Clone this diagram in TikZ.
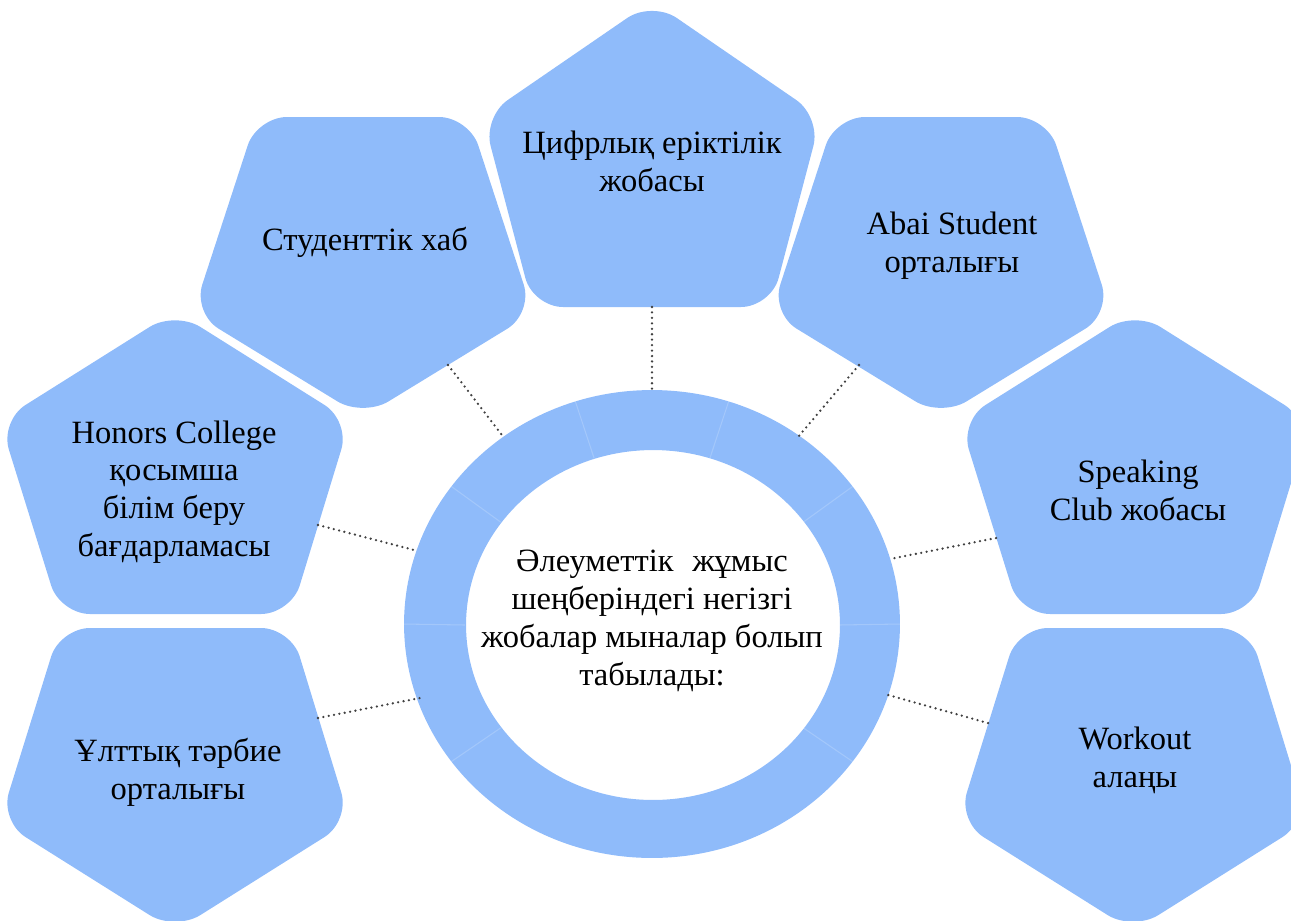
\documentclass[tikz,border=0pt]{standalone}
\usepackage{fontspec}
\setmainfont{Liberation Serif}
\definecolor{pentblue}{RGB}{143,187,250}
\tikzset{
  pent/.style={fill=pentblue, rounded corners=0.6cm},
  lbl/.style={align=center, font=\fontsize{18.5pt}{21.5pt}\selectfont, inner sep=0pt},
  conn/.style={draw=black!75, line width=1.45pt, dash pattern=on 0pt off 3.1pt, line cap=round},
  divider/.style={draw=white, opacity=0.18, line width=0.6pt},
}
\begin{document}
\begin{tikzpicture}[x=0.02cm,y=-0.02cm]
\clip (0,0) rectangle (1291,920);
% ring
\fill[pentblue, even odd rule] (652,624) ellipse [x radius=4.96cm, y radius=4.68cm]
  (653,625) ellipse [x radius=3.74cm, y radius=3.5cm];
\foreach \a in {0,36,72,108,144,180,216,324}
  \draw[divider] ({652+187*cos(\a)},{625-175*sin(\a)}) -- ({652+249*cos(\a)},{624-235*sin(\a)});
% pentagons
% P3 top centre (upright)
\fill[pent] (652,307) -- (533,307) -- (483,117) -- (652,1) -- (821,117) -- (771,307) -- cycle;
% P2 (inverted)
\fill[pent] (363,117) -- (469,117) -- (533,313) -- (363,417) -- (193,313) -- (257,117) -- cycle;
% P4 (inverted)
\fill[pent] (941,117) -- (1047,117) -- (1111,313) -- (941,417) -- (771,313) -- (835,117) -- cycle;
% P1 (upright)
\fill[pent] (175,614) -- (60,614) -- (0,421) -- (175,311) -- (350,421) -- (291,614) -- cycle;
% P0 (inverted)
\fill[pent] (175,628) -- (291,628) -- (350,821) -- (175,931) -- (0,821) -- (60,628) -- cycle;
% P5 (upright)
\fill[pent] (1135,614) -- (1020,614) -- (960,421) -- (1135,311) -- (1310,421) -- (1251,614) -- cycle;
% P6 (inverted)
\fill[pent] (1133,628) -- (1249,628) -- (1308,821) -- (1133,931) -- (958,821) -- (1018,628) -- cycle;
% texts
\node[lbl] (centre) at (652,621) {Әлеуметтік\hspace{6pt} жұмыс\\шеңберіндегі негізгі\\жобалар мыналар болып\\табылады:};
\node[lbl] (t3) at (652,161) {Цифрлық еріктілік\\жобасы};
\node[lbl] (t2) at (365,242) {Студенттік хаб};
\node[lbl] (t4) at (952,246) {Abai Student\\орталығы};
\node[lbl] (t1) at (174,492) {Honors College\\қосымша\\білім беру\\бағдарламасы};
\node[lbl] (t0) at (178,772) {Ұлттық тәрбие\\орталығы};
\node[lbl] (t5) at (1138,490) {Speaking\\Club жобасы};
\node[lbl] (t6) at (1135,760) {Workout\\алаңы};
% connector end points
\coordinate (p3) at (652,307); \coordinate (r3) at (652,390);
\coordinate (p2) at (448,365); \coordinate (r2) at (502,435);
\coordinate (p1) at (318,525); \coordinate (r1) at (418,551);
\coordinate (p4) at (859,365); \coordinate (r4) at (798,437);
\coordinate (p5) at (996,538); \coordinate (r5) at (890,559);
\coordinate (p0) at (318,718); \coordinate (r0) at (420,698);
\coordinate (p6) at (988,723); \coordinate (r6) at (888,695);
\draw[conn] (p3) -- (r3);
\draw[conn] (p2) -- (r2);
\draw[conn] (p1) -- (r1);
\draw[conn] (p4) -- (r4);
\draw[conn] (p5) -- (r5);
\draw[conn] (p0) -- (r0);
\draw[conn] (p6) -- (r6);
\end{tikzpicture}
\end{document}
